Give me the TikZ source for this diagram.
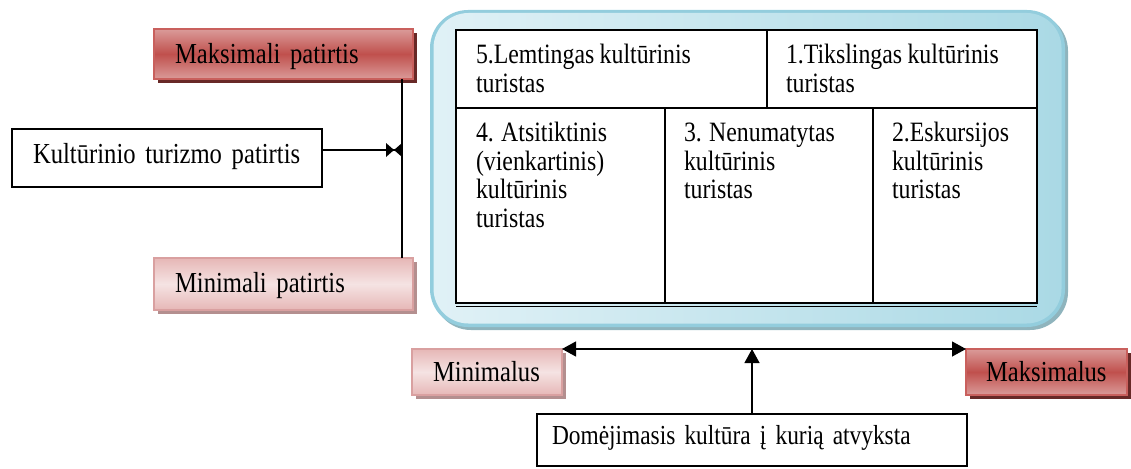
\documentclass[tikz,border=0pt]{standalone}
\usepackage{fontspec}
\setmainfont[FakeStretch=0.85]{Liberation Serif}
\usetikzlibrary{arrows.meta,shadows}
\newcommand\diagsp[1]{\spaceskip #1\relax}
\definecolor{redmid}{HTML}{C0504D}
\definecolor{redlight}{HTML}{DA9B99}
\definecolor{redborder}{HTML}{C9605D}
\definecolor{redshadow}{HTML}{682927}
\definecolor{pinkdark}{HTML}{E6B7B6}
\definecolor{pinklight}{HTML}{F5E3E3}
\definecolor{pinkborder}{HTML}{D9A0A0}
\definecolor{pinkshadow}{HTML}{B48F8F}
\definecolor{blueedge}{HTML}{93CDDD}
\definecolor{bluelight}{HTML}{E0F1F6}
\definecolor{bluemid}{HTML}{AAD9E5}
\definecolor{blueshadow}{HTML}{8FB4BD}
\tikzset{
  lbl/.style={font={\fontsize{29}{29}\selectfont\diagsp{5.6pt}}, align=left, inner xsep=21pt,
    inner ysep=0pt, outer sep=0pt, anchor=north west, text height=19.2pt, text depth=0pt},
  redbox/.style={lbl, draw=redborder, line width=1.2pt, top color=redlight,
    bottom color=redlight, middle color=redmid,
    drop shadow={shadow xshift=4pt, shadow yshift=-4pt, fill=redshadow, opacity=1}},
  pinkbox/.style={lbl, draw=pinkborder, line width=1.2pt, top color=pinkdark,
    bottom color=pinkdark, middle color=pinklight,
    drop shadow={shadow xshift=4pt, shadow yshift=-4pt, fill=pinkshadow, opacity=1}},
  plainbox/.style={lbl, draw=black, line width=1.2pt, fill=white},
  cell/.style={font={\fontsize{28}{28.5}\selectfont\diagsp{5.4pt}}, align=left, inner sep=0pt,
    outer sep=0pt, anchor=north west},
  conn/.style={line width=1.2pt},
  grid/.style={line width=1.6pt},
  arrowed/.style={-{Triangle[width=15pt,length=14pt]}},
  biarrowed/.style={{Triangle[width=15pt,length=14pt]}-{Triangle[width=15pt,length=14pt]}}
}
\begin{document}
\begin{tikzpicture}[x=1pt,y=-1pt]
\useasboundingbox (0,0) rectangle (1131,468);

% blue rounded panel
\fill[blueshadow, rounded corners=38pt] (433,13) rectangle (1068,330);
\fill[blueedge, rounded corners=38pt] (430,10) rectangle (1065,327);
\shade[rounded corners=35pt, left color=bluelight, right color=bluemid] (433.5,13) rectangle (1061.5,323.5);

% table
\fill[white] (456,30) rectangle (1037,303);
\draw[grid] (456,30) rectangle (1037,303);
\draw[grid] (456,306.5) -- (1037,306.5);
\draw[grid] (456,108) -- (1037,108);
\draw[grid] (767,30) -- (767,108);
\draw[grid] (665,108) -- (665,303);
\draw[grid] (873,108) -- (873,303);

\node[cell] (t5) at (476,44) {\strut 5.Lemtingas kultūrinis\\turistas};
\node[cell] (t1) at (786,44) {\strut 1.Tikslingas kultūrinis\\turistas};
\node[cell] (t4) at (476,122) {\strut 4. Atsitiktinis\\(vienkartinis)\\kultūrinis\\turistas};
\node[cell] (t3) at (684,122) {\strut 3. Nenumatytas\\kultūrinis\\turistas};
\node[cell] (t2) at (892,122) {\strut 2.Eskursijos\\kultūrinis\\turistas};

% left side
\node[redbox, minimum height=50pt, text width=217pt] (maxp) at (154,29) {Maksimali patirtis};
\node[plainbox, minimum height=58pt, text width=268pt, text depth=9.2pt] (kult) at (12,129) {Kultūrinio turizmo patirtis};
\node[pinkbox, minimum height=52pt, text width=217pt, text depth=2pt] (minp) at (154,258) {Minimali patirtis};

\coordinate (vx) at (402,0);
\draw[conn] (maxp.south -| vx) -- (minp.north -| vx);
\coordinate (bt) at ([yshift=8pt]kult.east -| vx);
\draw[conn] ([yshift=8pt]kult.east) -- (bt);
\fill (bt) ++(-16,-7) -- ++(8,7) -- ++(-8,7) -- cycle;
\fill (bt) ++(0,-7) -- ++(-8,7) -- ++(8,7) -- cycle;

% bottom
\node[pinkbox, minimum height=46pt, text width=108pt] (minm) at (412,349) {Minimalus};
\node[redbox, minimum height=46pt, text width=121pt, inner xsep=20pt] (maxm) at (966,349) {Maksimalus};
\node[plainbox, font={\fontsize{27.5}{29}\selectfont\diagsp{5.3pt}}, minimum height=52pt, text width=400pt,
  inner xsep=15pt, text depth=11.2pt] (dom) at (537,414) {Domėjimasis kultūra į kurią atvyksta};

\draw[conn, biarrowed] (minm.north east) -- (maxm.north west);
\draw[conn, arrowed] (dom.north) -- (dom.north |- minm.north east);
\end{tikzpicture}
\end{document}
